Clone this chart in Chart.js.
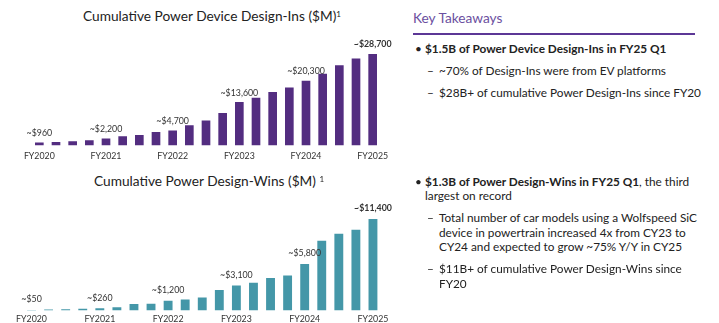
<!DOCTYPE html>
<html>
<head>
<meta charset="utf-8">
<script src="https://cdn.jsdelivr.net/npm/chart.js@4.4.1/dist/chart.umd.min.js"></script>
<style>
body { margin: 0; width: 719px; height: 323px; overflow: hidden; background: #fff; font-family: Lato, sans-serif; color: #222; position: relative; }
.caixa { position: absolute; left: 0; width: 400px; }
.titulo { position: absolute; font-size: 13.7px; white-space: nowrap; line-height: 18px; }
.titulo sup { font-size: 8px; vertical-align: top; position: relative; top: -2px; }
#key { position: absolute; left: 413px; top: 9px; font-size: 13.7px; line-height: 18px; color: #6b4fa0; }
#linha { position: absolute; left: 413px; top: 33px; width: 282px; height: 2px; background: #5c3796; }
.bloco { position: absolute; font-size: 11.8px; line-height: 14.5px; white-space: nowrap; }
.bloco .marca { position: absolute; }
</style>
</head>
<body>
<div class="titulo" style="left:83px; top:7px;">Cumulative Power Device Design-Ins ($M)<sup>1</sup></div>
<div class="caixa" style="top:0; height:166px;"><canvas id="chartIns"></canvas></div>
<div class="titulo" style="left:94px; top:172px;">Cumulative Power Design-Wins ($M) <sup>1</sup></div>
<div class="caixa" style="top:160px; height:168px;"><canvas id="chartWins"></canvas></div>

<div id="key">Key Takeaways</div>
<div id="linha"></div>
<div class="bloco" style="left:415px; top:42px;"><span class="marca">•</span><b style="margin-left:10px;">$1.5B of Power Device Design-Ins in FY25 Q1</b></div>
<div class="bloco" style="left:427px; top:64px;"><span class="marca">–</span><span style="margin-left:12px;">~70% of Design-Ins were from EV platforms</span></div>
<div class="bloco" style="left:427px; top:85.5px;"><span class="marca">–</span><span style="margin-left:12px;">$28B+ of cumulative Power Design-Ins since FY20</span></div>
<div class="bloco" style="left:415px; top:174.5px;"><span class="marca">•</span><div style="margin-left:10px;"><b>$1.3B of Power Design-Wins in FY25 Q1</b>, the third<br>largest on record</div></div>
<div class="bloco" style="left:427px; top:211px;"><span class="marca">–</span><div style="margin-left:12px;">Total number of car models using a Wolfspeed SiC<br>device in powertrain increased 4x from CY23 to<br>CY24 and expected to grow ~75% Y/Y in CY25</div></div>
<div class="bloco" style="left:427px; top:262px;"><span class="marca">–</span><div style="margin-left:12px;">$11B+ of cumulative Power Design-Wins since<br>FY20</div></div>

<script>
var corIns = '#532d80';
var corWins = '#4497a8';

var trimestres = ['FY20 Q1', 'FY20 Q2', 'FY20 Q3', 'FY20 Q4', 'FY21 Q1', 'FY21 Q2', 'FY21 Q3', 'FY21 Q4',
    'FY22 Q1', 'FY22 Q2', 'FY22 Q3', 'FY22 Q4', 'FY23 Q1', 'FY23 Q2', 'FY23 Q3', 'FY23 Q4',
    'FY24 Q1', 'FY24 Q2', 'FY24 Q3', 'FY24 Q4', 'FY25 Q1'];
var anos = ['FY2020', 'FY2021', 'FY2022', 'FY2023', 'FY2024', 'FY2025'];

var designIns = [960, 1100, 1350, 1650, 2200, 2900, 3300, 4250, 4700, 6300, 7800, 10200,
    13600, 15000, 16800, 18200, 20300, 22500, 25200, 27300, 28700];
var rotulosIns = ['~$960', '~$2,200', '~$4,700', '~$13,600', '~$20,300', '~$28,700'];

var designWins = [50, 120, 150, 200, 260, 400, 800, 820, 1200, 1370, 1600, 2550,
    3100, 3450, 4050, 4350, 5800, 8700, 9550, 10050, 11400];
var rotulosWins = ['~$50', '~$260', '~$1,200', '~$3,100', '~$5,800', '~$11,400'];

// rotulos acima das barras de cada ano
const etiquetas = {
    id: 'etiquetas',
    afterDatasetsDraw(chart, args, opts) {
        const ctx = chart.ctx;
        const barras = chart.getDatasetMeta(0).data;
        ctx.save();
        ctx.textAlign = 'center';
        ctx.textBaseline = 'bottom';
        ctx.fillStyle = '#333';
        barras.forEach((b, i) => {
            if (i % 4 != 0) return;
            ctx.font = (i == barras.length - 1 ? 'bold ' : '') + '8.8px Lato';
            ctx.fillText(opts.textos[i / 4], b.x, b.y - opts.folga);
        });
        ctx.restore();
    }
};

const novoGrafico = (id, dados, cor, maximo, textos, folga, padding, tickPad) => {
    let ctx = document.getElementById(id).getContext('2d');
    return new Chart(ctx, {
        type: 'bar',
        data: {
            labels: trimestres,
            datasets: [{
                data: dados,
                backgroundColor: cor,
                borderWidth: 0,
                barPercentage: 0.52,
                categoryPercentage: 1
            }]
        },
        options: {
            responsive: true,
            maintainAspectRatio: false,
            animation: false,
            layout: { padding: padding },
            plugins: {
                legend: { display: false },
                tooltip: { enabled: false },
                etiquetas: { textos: textos, folga: folga }
            },
            scales: {
                x: {
                    grid: { display: false, drawTicks: false },
                    border: { display: false },
                    ticks: {
                        autoSkip: false,
                        maxRotation: 0,
                        padding: tickPad,
                        color: '#333',
                        font: { family: 'Lato', size: 8.8 },
                        callback: (v, i) => i % 4 == 0 ? anos[i / 4] : ''
                    }
                },
                y: { display: false, min: 0, max: maximo }
            }
        },
        plugins: [etiquetas]
    });
}

novoGrafico('chartIns', designIns, corIns, 28700, rotulosIns, 5, { left: 31, right: 19, top: 54, bottom: 0 }, 5);
novoGrafico('chartWins', designWins, corWins, 11400, rotulosWins, 6, { left: 23, right: 18.5, top: 59, bottom: 0 }, 3.5);
</script>
</body>
</html>
